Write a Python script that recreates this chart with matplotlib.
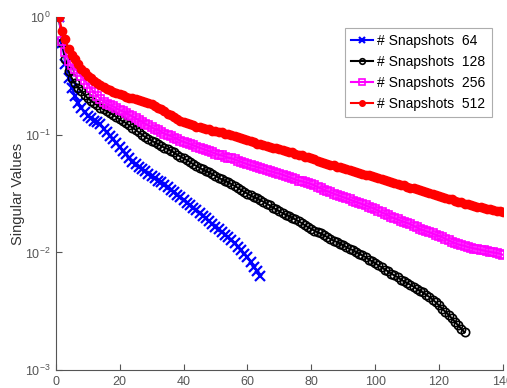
import matplotlib
matplotlib.use('Agg')
import matplotlib.pyplot as plt
import numpy as np

plt.rcParams['font.family'] = ['Liberation Sans', 'DejaVu Sans']
plt.rcParams['mathtext.fontset'] = 'custom'
plt.rcParams['mathtext.rm'] = 'Liberation Sans'
plt.rcParams['mathtext.it'] = 'Liberation Sans'
plt.rcParams['mathtext.default'] = 'regular'

# singular values (index 1..N)
sv64 = [1.0, 0.603, 0.398, 0.302, 0.251, 0.214, 0.186, 0.170, 0.155, 0.145,
        0.138, 0.132, 0.129, 0.123, 0.112, 0.105, 0.0977, 0.0912, 0.0851, 0.0794,
        0.0733, 0.0684, 0.0631, 0.0589, 0.0562, 0.0537, 0.0513, 0.0490, 0.0468, 0.0447,
        0.0427, 0.0407, 0.0394, 0.0376, 0.0360, 0.0342, 0.0325, 0.0309, 0.0294, 0.0279,
        0.0265, 0.0252, 0.0240, 0.0228, 0.0216, 0.0205, 0.0195, 0.0185, 0.0175, 0.0166,
        0.0157, 0.0149, 0.0142, 0.0134, 0.0127, 0.0120, 0.0112, 0.0105, 0.00977, 0.00912,
        0.00832, 0.00759, 0.00692, 0.00631]

sv128 = [1.0, 0.603, 0.437, 0.347, 0.302, 0.275, 0.251, 0.234, 0.219, 0.204,
         0.195, 0.186, 0.178, 0.170, 0.164, 0.158, 0.153, 0.148, 0.141, 0.135,
         0.130, 0.126, 0.120, 0.115, 0.110, 0.105, 0.100, 0.0955, 0.0923, 0.0891,
         0.0861, 0.0832, 0.0804, 0.0776, 0.0759, 0.0733, 0.0708, 0.0676, 0.0653, 0.0631,
         0.0610, 0.0589, 0.0562, 0.0543, 0.0525, 0.0507, 0.0490, 0.0479, 0.0462, 0.0447,
         0.0432, 0.0417, 0.0407, 0.0394, 0.0380, 0.0367, 0.0355, 0.0339, 0.0327, 0.0316,
         0.0305, 0.0295, 0.0288, 0.0279, 0.0269, 0.0260, 0.0251, 0.0240, 0.0232, 0.0224,
         0.0216, 0.0209, 0.0204, 0.0197, 0.0191, 0.0184, 0.0178, 0.0170, 0.0164, 0.0158,
         0.0153, 0.0148, 0.0145, 0.0140, 0.0135, 0.0130, 0.0126, 0.0123, 0.0119, 0.0115,
         0.0111, 0.0107, 0.0105, 0.0101, 0.00977, 0.00944, 0.00912, 0.00871, 0.00841, 0.00813,
         0.00776, 0.00750, 0.00716, 0.00692, 0.00661, 0.00638, 0.00617, 0.00589, 0.00569, 0.00550,
         0.00531, 0.00513, 0.00490, 0.00473, 0.00457, 0.00437, 0.00417, 0.00398, 0.00376, 0.00355,
         0.00331, 0.00313, 0.00295, 0.00275, 0.00257, 0.00240, 0.00224, 0.00209]

sv256 = [1.0, 0.631, 0.501, 0.427, 0.389, 0.363, 0.339, 0.316, 0.292, 0.269,
         0.248, 0.229, 0.214, 0.200, 0.191, 0.184, 0.178, 0.174, 0.168, 0.162,
         0.158, 0.153, 0.148, 0.143, 0.138, 0.133, 0.129, 0.124, 0.120, 0.116,
         0.112, 0.110, 0.106, 0.102, 0.100, 0.0977, 0.0944, 0.0923, 0.0891, 0.0871,
         0.0851, 0.0832, 0.0813, 0.0794, 0.0776, 0.0759, 0.0741, 0.0724, 0.0708, 0.0692,
         0.0676, 0.0668, 0.0653, 0.0638, 0.0631, 0.0617, 0.0603, 0.0589, 0.0575, 0.0562,
         0.0550, 0.0543, 0.0531, 0.0525, 0.0513, 0.0501, 0.0490, 0.0484, 0.0473, 0.0468,
         0.0457, 0.0447, 0.0437, 0.0427, 0.0417, 0.0407, 0.0403, 0.0394, 0.0389, 0.0380,
         0.0372, 0.0359, 0.0351, 0.0339, 0.0331, 0.0324, 0.0316, 0.0309, 0.0302, 0.0295,
         0.0288, 0.0282, 0.0275, 0.0269, 0.0263, 0.0257, 0.0251, 0.0245, 0.0240, 0.0234,
         0.0226, 0.0219, 0.0214, 0.0207, 0.0200, 0.0195, 0.0191, 0.0186, 0.0182, 0.0178,
         0.0174, 0.0168, 0.0164, 0.0158, 0.0155, 0.0151, 0.0148, 0.0145, 0.0141, 0.0138,
         0.0135, 0.0130, 0.0127, 0.0123, 0.0120, 0.0117, 0.0115, 0.0114, 0.0111, 0.0110,
         0.0108, 0.0107, 0.0105, 0.0104, 0.0102, 0.0101, 0.0100, 0.00989, 0.00977, 0.00955]

sv512 = [1.0, 0.759, 0.646, 0.537, 0.479, 0.437, 0.398, 0.363, 0.339, 0.316,
         0.302, 0.288, 0.275, 0.263, 0.254, 0.245, 0.240, 0.232, 0.226, 0.221,
         0.216, 0.209, 0.207, 0.204, 0.200, 0.197, 0.193, 0.191, 0.186, 0.182,
         0.176, 0.170, 0.164, 0.158, 0.151, 0.146, 0.141, 0.136, 0.132, 0.129,
         0.126, 0.123, 0.120, 0.117, 0.116, 0.115, 0.112, 0.111, 0.108, 0.107,
         0.106, 0.105, 0.102, 0.101, 0.100, 0.0977, 0.0955, 0.0933, 0.0923, 0.0902,
         0.0881, 0.0861, 0.0841, 0.0832, 0.0813, 0.0804, 0.0794, 0.0776, 0.0767, 0.0759,
         0.0741, 0.0733, 0.0716, 0.0708, 0.0692, 0.0676, 0.0668, 0.0653, 0.0646, 0.0631,
         0.0617, 0.0603, 0.0589, 0.0575, 0.0562, 0.0556, 0.0550, 0.0537, 0.0531, 0.0525,
         0.0513, 0.0501, 0.0495, 0.0484, 0.0473, 0.0468, 0.0457, 0.0452, 0.0442, 0.0437,
         0.0427, 0.0417, 0.0412, 0.0403, 0.0398, 0.0389, 0.0385, 0.0376, 0.0372, 0.0363,
         0.0355, 0.0351, 0.0343, 0.0339, 0.0331, 0.0324, 0.0320, 0.0313, 0.0309, 0.0302,
         0.0295, 0.0292, 0.0285, 0.0282, 0.0275, 0.0269, 0.0266, 0.0260, 0.0257, 0.0251,
         0.0248, 0.0245, 0.0243, 0.0240, 0.0234, 0.0232, 0.0229, 0.0226, 0.0224, 0.0219]

labels = ['# Snapshots  64', '# Snapshots  128', '# Snapshots  256', '# Snapshots  512']
xticks = [0, 20, 40, 60, 80, 100, 120, 140]

fig = plt.figure(figsize=(5.07, 3.88), dpi=100)
ax = fig.add_axes([0.110, 0.046, 0.882, 0.910])

axcol = '#555555'

ax.plot(np.arange(1, len(sv64) + 1), sv64, '-x', color='blue', lw=1.5,
        ms=7, mew=1.6, label=labels[0])
ax.plot(np.arange(1, len(sv128) + 1), sv128, '-o', color='black', lw=1.5,
        ms=6, mew=1.2, mfc='none', label=labels[1])
ax.plot(np.arange(1, len(sv256) + 1), sv256, '-s', color='magenta', lw=1.5,
        ms=6, mew=1.2, mfc='none', label=labels[2])
ax.plot(np.arange(1, len(sv512) + 1), sv512, '-o', color='red', lw=1.5,
        ms=6, mew=1.0, label=labels[3])

ax.set_yscale('log')
ax.set_ylim(1e-3, 1)
ax.set_xlim(0, 140)
ax.set_xticks(xticks)
ax.set_yticks([1e-3, 1e-2, 1e-1, 1])
ax.yaxis.set_minor_locator(matplotlib.ticker.NullLocator())

for s in ['top', 'right']:
    ax.spines[s].set_visible(False)
for s in ['left', 'bottom']:
    ax.spines[s].set_color(axcol)
    ax.spines[s].set_linewidth(0.8)

ax.tick_params(direction='in', length=4, width=0.8, colors=axcol,
               labelsize=9, pad=4)
ax.set_ylabel('Singular Values', fontsize=10.5, color='#333333', labelpad=0)

leg = ax.legend(loc='upper right', bbox_to_anchor=(0.975, 0.969), borderaxespad=0,
                fontsize=10, frameon=True, fancybox=False, handlelength=1.6,
                handletextpad=0.3, labelspacing=0.5, borderpad=0.45)
leg.get_frame().set_edgecolor('#999999')
leg.get_frame().set_linewidth(0.8)
for line in leg.get_lines():
    line.set_markersize(4)

fig.savefig('out.png', dpi=100)
